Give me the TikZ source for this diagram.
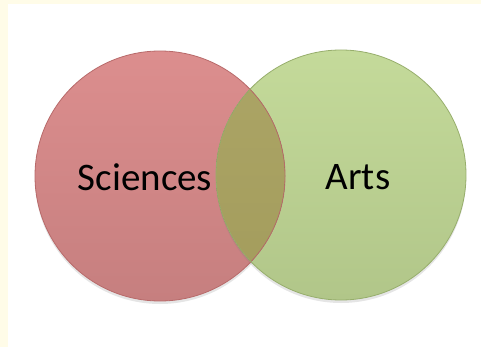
\documentclass[tikz,border=0pt]{standalone}
\usepackage{fontspec}
\setmainfont{Carlito}
\usepackage{tikz}
\usetikzlibrary{shadows}

\definecolor{cream}{HTML}{FFFCE8}
\definecolor{scitop}{HTML}{DC8E8E}
\definecolor{scibot}{HTML}{C67F7F}
\definecolor{sciline}{HTML}{B86A6A}
\definecolor{arttop}{HTML}{C4DA9A}
\definecolor{artbot}{HTML}{B1C689}
\definecolor{artline}{HTML}{97AE6C}
\definecolor{lenstop}{HTML}{ACA566}
\definecolor{lensbot}{HTML}{A39C5C}

\tikzset{
  venn/.style = {shape = circle, minimum size = 250pt, inner sep = 0pt},
  label/.style = {font = \fontsize{39}{44}\selectfont, text = black}
}

\begin{document}
\begin{tikzpicture}[x=1pt,y=-1pt]
\fill[cream] (0,0) rectangle (481,347);
\fill[white] (8,4) rectangle (481,347);
\useasboundingbox (0,0) rectangle (481,347);

\node[venn, top color = scitop, bottom color = scibot,
      drop shadow = {opacity = 0.2, shadow xshift = 0pt, shadow yshift = -3pt}](S) at (160,176) {};
\node[venn, top color = arttop, bottom color = artbot,
      drop shadow = {opacity = 0.2, shadow xshift = 0pt, shadow yshift = -3pt}](A) at (341,175) {};

% overlap
\begin{scope}
\clip (S.center) circle (125pt);
\fill[top color = lenstop, bottom color = lensbot] (A.center) circle (125pt);
\end{scope}

\draw[sciline, line width = 0.8pt] (S.center) circle (125pt);
\draw[artline, line width = 0.8pt] (A.center) circle (125pt);

\node[label](sci) at (145,177) {Sciences};
\node[label](arts) at (358,177) {Arts};
\end{tikzpicture}
\end{document}
